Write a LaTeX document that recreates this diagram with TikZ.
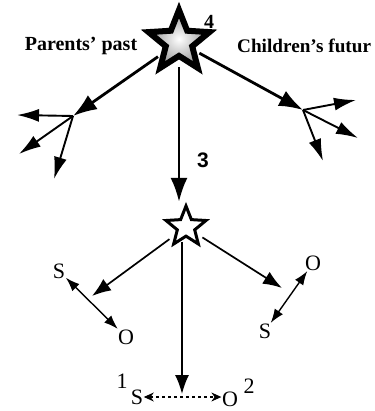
\documentclass[tikz,border=0pt]{standalone}
\usepackage{fontspec}
\setmainfont{Liberation Serif}
\newfontfamily\sansfont{Liberation Sans}
\usetikzlibrary{shapes.geometric,arrows.meta}

\tikzset{
  mainarrow/.style={line width=2.8pt, -{Latex[length=24pt,width=17pt]}},
  fanarrow/.style={line width=1.9pt, -{Latex[length=22pt,width=13pt]}},
  midarrow/.style={line width=1.7pt, -{Latex[length=19pt,width=14pt]}},
  soarrow/.style={line width=1.4pt, {Latex[length=14pt,width=10pt]}-{Latex[length=14pt,width=10pt]}},
  lbl/.style={font=\fontsize{22}{22}\selectfont, inner sep=0.5pt},
  blbl/.style={font=\fontsize{20}{20}\selectfont\bfseries, inner sep=1pt}
}

\begin{document}
\begin{tikzpicture}[x=1pt,y=-1pt]
\useasboundingbox (0,0) rectangle (374,411);

% Big star
\node[star, star points=5, star point ratio=2.3, minimum size=64pt, inner sep=0pt,
      draw=black, line width=6pt, inner color=white, outer color=gray!85] (bigstar) at (179,42) {};
\node[blbl] (four) at (209,22) {4};

% Headings
\node[blbl] (past) at (81,46) {Parents’ past};
\node[blbl, anchor=west, font=\fontsize{19.2}{20}\selectfont\bfseries] (future) at (236,46) {Children’s futur};

% Fan points
\coordinate (lfan) at (73,116);
\coordinate (rfan) at (303,110);

% Main arrows from big star
\draw[mainarrow, shorten <=3pt] (bigstar) -- (lfan);
\draw[mainarrow, shorten <=3pt] (bigstar) -- (rfan);

% Left fan
\draw[fanarrow] (lfan) -- (17,115);
\draw[fanarrow] (lfan) -- (19,154);
\draw[fanarrow] (lfan) -- (54,179);

% Right fan
\draw[fanarrow] (rfan) -- (356,100);
\draw[fanarrow] (rfan) -- (358,138);
\draw[fanarrow] (rfan) -- (323,161);

% Small star
\node[star, star points=5, star point ratio=2.3, minimum size=42pt, inner sep=0pt,
      draw=black, line width=3pt, fill=white] (smallstar) at (186,227) {};

% Vertical arrow and label 3
\draw[mainarrow, shorten <=8pt] (bigstar) -- (smallstar.north -| bigstar.south);
\node[font=\sansfont\bfseries\fontsize{21}{21}\selectfont] (three) at (203,160) {3};

% S and O labels
\node[lbl] (sl) at (59,271) {S};
\node[lbl] (ol) at (126,337) {O};
\node[lbl] (or) at (313,263) {O};
\node[lbl] (sr) at (265,331) {S};
\node[lbl] (sb) at (137,397) {S};
\node[lbl] (ob) at (230,399) {O};
\node[lbl] (one) at (122,381) {1};
\node[lbl] (two) at (249,386) {2};

% Arrows from small star
\coordinate (lmid) at (92,296);
\coordinate (rmid) at (282,288);
\coordinate (bmid) at (182,394);
\draw[midarrow, shorten <=6pt] (smallstar) -- (lmid);
\draw[midarrow, shorten <=6pt] (smallstar) -- (rmid);
\draw[midarrow, shorten <=4pt] (smallstar.south -| bmid) -- (bmid);

% S-O links
\draw[soarrow] (sl) -- (ol);
\draw[soarrow] (or) -- (sr);
\draw[line width=1.1pt, dashed, {Stealth[length=10pt,width=9pt]}-{Stealth[length=10pt,width=9pt]}]
  (sb.east) -- (sb.east -| ob.west);

\end{tikzpicture}
\end{document}
